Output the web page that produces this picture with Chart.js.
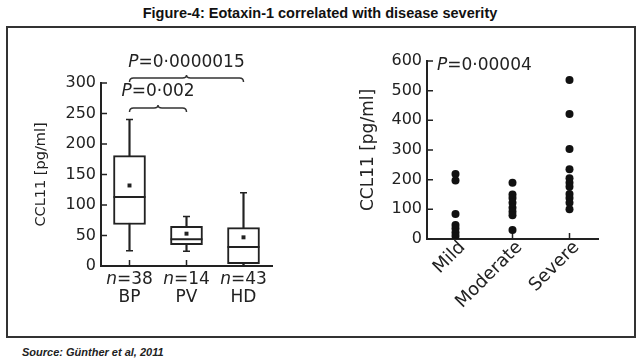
<!DOCTYPE html>
<html lang="en">
<head>
<meta charset="UTF-8">
<title>Figure-4: Eotaxin-1 correlated with disease severity</title>
<style>
  body { margin: 0; background: #fff; font-family: "Liberation Sans", Arial, sans-serif; }
  #page { position: relative; width: 640px; height: 361px; overflow: hidden; }
  h1 { position: absolute; left: 0; top: 5px; width: 640px; margin: 0; text-align: center;
       font-size: 14.5px; line-height: 17px; font-weight: bold; color: #111; }
  .frame { position: absolute; left: 6px; top: 26px; width: 630px; height: 312px;
           border: 2px solid #333; box-sizing: border-box; }
  .src { position: absolute; left: 22px; top: 345px; font-size: 11px; line-height: 14px;
         font-weight: bold; font-style: italic; color: #222; }
  #left { position: absolute; left: 30px; top: 30px; }
  #right { position: absolute; left: 340px; top: 30px; }
</style>
</head>
<body>
<div id="page">
  <h1>Figure-4: Eotaxin-1 correlated with disease severity</h1>
  <div class="frame"></div>
  <canvas id="left" width="270" height="290"></canvas>
  <canvas id="right" width="280" height="295"></canvas>
  <div class="src">Source: Günther et al, 2011</div>
</div>

<script src="https://cdn.jsdelivr.net/npm/chart.js"></script>
<script>
// left panel: box plots per group
const groups = ['BP', 'PV', 'HD'];
const groupN = [38, 14, 43];
const whiskerLow = [25, 24, 0];
const q1 = [68, 35, 4];
const median = [113, 44, 31];
const q3 = [181, 65, 63];
const whiskerHigh = [240, 81, 120];
const means = [132, 53, 47];
const leftTicks = [0, 50, 100, 150, 200, 250, 300];

// pairwise comparisons drawn as braces above the boxes
const comparisons = [
    { from: 'BP', to: 'PV', at: 259, p: '0·002' },
    { from: 'BP', to: 'HD', at: 308, p: '0·0000015' }
];

// right panel: individual values per severity
const severities = ['Mild', 'Moderate', 'Severe'];
const mild = [219, 197, 84, 47, 35, 22, 10];
const moderate = [190, 150, 138, 122, 105, 92, 80, 30];
const severe = [536, 421, 303, 235, 205, 190, 176, 152, 138, 122, 100];
const rightTicks = [0, 100, 200, 300, 400, 500, 600];
const severityP = { at: 586, p: '0·00004' };

const ink = '#222';
const family = '"DejaVu Sans", sans-serif';
Chart.defaults.font.family = family;
Chart.defaults.color = ink;

// write a line of text made of italic / upright runs
function drawRuns(ctx, runs, x, y, align, size) {
    const fonts = runs.map(r => (r[1] ? 'italic ' : '') + size + 'px ' + family);
    let total = 0;
    const widths = runs.map((r, i) => {
        ctx.font = fonts[i];
        const w = ctx.measureText(r[0]).width;
        total += w;
        return w;
    });
    let cx = align === 'center' ? x - total / 2 : x;
    ctx.textAlign = 'left';
    ctx.textBaseline = 'middle';
    runs.forEach((r, i) => {
        ctx.font = fonts[i];
        ctx.fillText(r[0], cx, y);
        cx += widths[i];
    });
}

function drawBrace(ctx, x1, x2, y) {
    const d = 4, xm = (x1 + x2) / 2;
    ctx.beginPath();
    ctx.moveTo(x1, y + d);
    ctx.quadraticCurveTo(x1, y, x1 + d, y);
    ctx.lineTo(xm - d, y);
    ctx.quadraticCurveTo(xm, y, xm, y - 3);
    ctx.quadraticCurveTo(xm, y, xm + d, y);
    ctx.lineTo(x2 - d, y);
    ctx.quadraticCurveTo(x2, y, x2, y + d);
    ctx.stroke();
}

// tick marks pointing into the plot area
const innerTicks = {
    id: 'innerTicks',
    beforeDatasetsDraw(chart, args, opts) {
        const { ctx, scales: { x, y } } = chart;
        ctx.save();
        ctx.strokeStyle = ink;
        ctx.lineWidth = 1.5;
        ctx.beginPath();
        y.ticks.forEach((t, i) => {
            const py = y.getPixelForTick(i);
            ctx.moveTo(y.right, py);
            ctx.lineTo(y.right + opts.len, py);
        });
        x.ticks.forEach((t, i) => {
            const px = x.getPixelForTick(i);
            ctx.moveTo(px, x.top);
            ctx.lineTo(px, x.top - opts.len);
        });
        ctx.stroke();
        ctx.restore();
    }
};

const leftNotes = {
    id: 'leftNotes',
    afterDraw(chart) {
        const { ctx, scales: { x, y } } = chart;
        ctx.save();
        ctx.fillStyle = ink;
        ctx.strokeStyle = '#333';
        ctx.lineWidth = 1.5;
        groups.forEach((g, i) => {
            drawRuns(ctx, [['n', true], ['=' + groupN[i], false]], x.getPixelForValue(i), x.top + 14, 'center', 17);
        });
        comparisons.forEach(c => {
            const x1 = x.getPixelForValue(groups.indexOf(c.from));
            const x2 = x.getPixelForValue(groups.indexOf(c.to));
            const py = y.getPixelForValue(c.at);
            drawBrace(ctx, x1, x2, py);
            drawRuns(ctx, [['P', true], ['=' + c.p, false]], (x1 + x2) / 2, py - 16, 'center', 17);
        });
        ctx.restore();
    }
};

const rightNotes = {
    id: 'rightNotes',
    afterDraw(chart) {
        const { ctx, chartArea, scales: { y } } = chart;
        ctx.save();
        ctx.fillStyle = ink;
        drawRuns(ctx, [['P', true], ['=' + severityP.p, false]], chartArea.left + 10, y.getPixelForValue(severityP.at), 'left', 17);
        ctx.restore();
    }
};

function pointSet(data, radius, width) {
    return { type: 'line', data: data, showLine: false, pointStyle: 'line', pointRadius: radius,
             borderColor: ink, borderWidth: width };
}

new Chart(document.getElementById('left'), {
    type: 'bar',
    data: {
        labels: groups,
        datasets: [
            { type: 'line', data: means, showLine: false, pointStyle: 'rect', pointRadius: 2.8,
              backgroundColor: ink, borderWidth: 0, order: 0 },
            Object.assign(pointSet(median, 16, 2), { order: 1 }),
            Object.assign(pointSet(whiskerHigh, 3.5, 1.5), { order: 2 }),
            Object.assign(pointSet(whiskerLow, 3.5, 1.5), { order: 2 }),
            { type: 'bar', data: groups.map((g, i) => [q1[i], q3[i]]), backgroundColor: '#fff',
              borderColor: ink, borderWidth: 2, borderSkipped: false, barThickness: 32, grouped: false, order: 3 },
            { type: 'bar', data: groups.map((g, i) => [whiskerLow[i], whiskerHigh[i]]), backgroundColor: ink,
              borderWidth: 0, barThickness: 1.5, grouped: false, order: 4 }
        ]
    },
    options: {
        responsive: false,
        animation: false,
        events: [],
        layout: { padding: { top: 53, right: 28, left: 0, bottom: 0 } },
        plugins: { legend: { display: false }, tooltip: { enabled: false }, innerTicks: { len: 6 } },
        scales: {
            x: {
                grid: { display: false, drawTicks: false, offset: false },
                border: { display: true, color: ink, width: 2 },
                ticks: { color: ink, font: { size: 17 }, padding: 21 },
                afterFit: s => { s.height = 54; }
            },
            y: {
                min: 0, max: 300,
                afterBuildTicks: s => { s.ticks = leftTicks.map(v => ({ value: v })); },
                grid: { display: false, drawTicks: false },
                border: { display: true, color: ink, width: 2 },
                ticks: { color: ink, font: { size: 16 }, padding: 5 },
                title: { display: true, text: 'CCL11 [pg/ml]', color: ink, font: { size: 14.5 }, padding: { top: 3, bottom: 0 } },
                afterFit: s => { s.width = 71; }
            }
        }
    },
    plugins: [innerTicks, leftNotes]
});

const points = [];
[mild, moderate, severe].forEach((vals, i) => {
    vals.forEach(v => points.push({ x: severities[i], y: v }));
});

new Chart(document.getElementById('right'), {
    type: 'scatter',
    data: {
        labels: severities,
        datasets: [{ data: points, pointRadius: 4, backgroundColor: '#111', borderWidth: 0 }]
    },
    options: {
        responsive: false,
        animation: false,
        events: [],
        layout: { padding: { top: 31, right: 22, left: 0, bottom: 0 } },
        plugins: { legend: { display: false }, tooltip: { enabled: false }, innerTicks: { len: 6 } },
        scales: {
            x: {
                type: 'category',
                labels: severities,
                offset: true,
                grid: { display: false, drawTicks: false, offset: false },
                border: { display: true, color: ink, width: 2 },
                ticks: { color: ink, font: { size: 18 }, padding: -2, labelOffset: 7,
                         minRotation: 45, maxRotation: 45, autoSkip: false },
                afterFit: s => { s.height = 86; }
            },
            y: {
                min: 0, max: 600,
                afterBuildTicks: s => { s.ticks = rightTicks.map(v => ({ value: v })); },
                grid: { display: false, drawTicks: false },
                border: { display: true, color: ink, width: 2 },
                ticks: { color: ink, font: { size: 16 }, padding: 5 },
                title: { display: true, text: 'CCL11 [pg/ml]', color: ink, font: { size: 17 }, padding: { top: 18, bottom: 0 } },
                afterFit: s => { s.width = 87; }
            }
        }
    },
    plugins: [innerTicks, rightNotes]
});
</script>
</body>
</html>
